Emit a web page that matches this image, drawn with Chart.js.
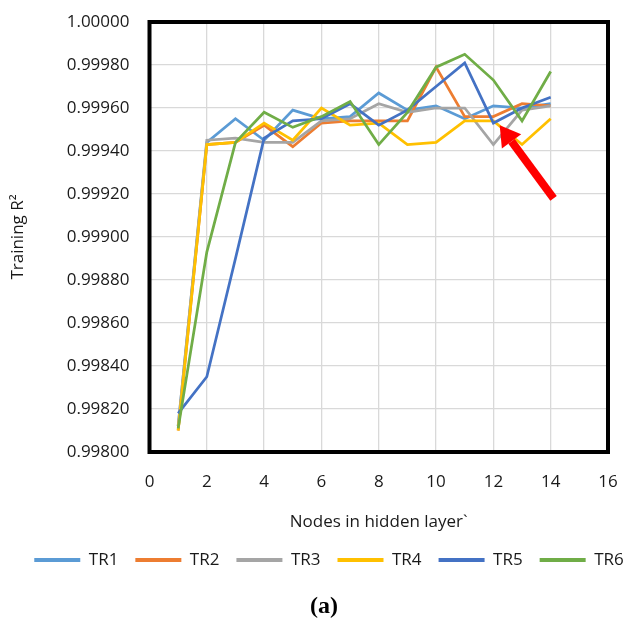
<!DOCTYPE html>
<html>
<head>
    <title>Training R2</title>
    <script src="https://cdn.jsdelivr.net/npm/chart.js"></script>
    <style>
        body { margin: 0; background: #ffffff; }
        .wrap { position: relative; width: 628px; height: 622px; overflow: hidden; }
        .caption {
            position: absolute; left: 324px; top: 605px;
            transform: translate(-50%, -50%);
            font-family: "Liberation Serif", serif; font-weight: bold; font-size: 24px; color: #000;
        }
    </style>
</head>
<body>
<div class="wrap">
    <canvas id="chart" width="628" height="622"></canvas>
    <div class="caption">(a)</div>
</div>
<script>
    // nodes in hidden layer
    const nodes = [1, 2, 3, 4, 5, 6, 7, 8, 9, 10, 11, 12, 13, 14];
    const names = ["TR1", "TR2", "TR3", "TR4", "TR5", "TR6"];
    const colors = ["#5B9BD5", "#ED7D31", "#A5A5A5", "#FFC000", "#4472C4", "#70AD47"];

    const tr1 = [0.99812, 0.99944, 0.99955, 0.99945, 0.99959, 0.99955, 0.99956, 0.99967, 0.99959, 0.99961, 0.99955, 0.99961, 0.99960, 0.99962];
    const tr2 = [0.99810, 0.99943, 0.99944, 0.99952, 0.99942, 0.99953, 0.99954, 0.99954, 0.99954, 0.99979, 0.99956, 0.99956, 0.99962, 0.99961];
    const tr3 = [0.99812, 0.99945, 0.99946, 0.99944, 0.99944, 0.99954, 0.99955, 0.99962, 0.99958, 0.99960, 0.99960, 0.99943, 0.99959, 0.99961];
    const tr4 = [0.99810, 0.99943, 0.99944, 0.99953, 0.99945, 0.99960, 0.99952, 0.99953, 0.99943, 0.99944, 0.99954, 0.99954, 0.99943, 0.99955];
    const tr5 = [0.99818, 0.99835, 0.99890, 0.99946, 0.99954, 0.99955, 0.99962, 0.99952, 0.99959, 0.99970, 0.99981, 0.99953, 0.99960, 0.99965];
    const tr6 = [0.99811, 0.99893, 0.99944, 0.99958, 0.99951, 0.99956, 0.99963, 0.99943, 0.99958, 0.99979, 0.99985, 0.99973, 0.99954, 0.99977];

    // red arrow annotation, in data units [x, y]
    const arrowFrom = [14.10, 0.99918];
    const arrowTo = [12.22, 0.99952];

    const series = [tr1, tr2, tr3, tr4, tr5, tr6];
    const font = { family: "Open Sans", size: 17 };
    const textColor = "#1a1a1a";

    const datasets = series.map(function (vals, i) {
        return {
            label: names[i],
            data: nodes.map((n, j) => ({ x: n, y: vals[j] })),
            borderColor: colors[i],
            backgroundColor: colors[i],
            borderWidth: 2.75,
            pointRadius: 0,
            tension: 0,
            order: series.length - i   // later series on top, like the original
        };
    });

    // black frame round the plot area and the red arrow
    const frameAndArrow = {
        id: "frameAndArrow",
        afterDraw(chart) {
            const ctx = chart.ctx;
            const a = chart.chartArea;
            const xs = chart.scales.x, ys = chart.scales.y;
            ctx.save();
            ctx.strokeStyle = "#000";
            ctx.lineWidth = 4;
            ctx.strokeRect(a.left, a.top, a.right - a.left, a.bottom - a.top);

            const x0 = xs.getPixelForValue(arrowFrom[0]), y0 = ys.getPixelForValue(arrowFrom[1]);
            const x1 = xs.getPixelForValue(arrowTo[0]), y1 = ys.getPixelForValue(arrowTo[1]);
            const ang = Math.atan2(y1 - y0, x1 - x0);
            const headLen = 20, headHalf = 12;
            const bx = x1 - headLen * Math.cos(ang), by = y1 - headLen * Math.sin(ang);
            ctx.strokeStyle = "#FF0000";
            ctx.fillStyle = "#FF0000";
            ctx.lineWidth = 8;
            ctx.beginPath();
            ctx.moveTo(x0, y0);
            ctx.lineTo(bx, by);
            ctx.stroke();
            ctx.beginPath();
            ctx.moveTo(x1, y1);
            ctx.lineTo(bx + headHalf * Math.sin(ang), by - headHalf * Math.cos(ang));
            ctx.lineTo(bx - headHalf * Math.sin(ang), by + headHalf * Math.cos(ang));
            ctx.closePath();
            ctx.fill();
            ctx.restore();
        }
    };

    new Chart(document.getElementById("chart"), {
        type: "line",
        data: { datasets: datasets },
        options: {
            responsive: false,
            animation: false,
            // negative right padding widens the legend row so it stays on one line;
            // the empty right axis below takes that room back from the plot
            layout: { padding: { left: 0, right: -30, top: 22, bottom: 43.5 } },
            plugins: {
                tooltip: { enabled: false },
                legend: {
                    position: "bottom",
                    labels: {
                        font: font,
                        color: textColor,
                        boxWidth: 46,
                        boxHeight: 4,
                        padding: 17,
                        sort: (a, b) => a.datasetIndex - b.datasetIndex,
                        generateLabels: function (chart) {
                            return Chart.defaults.plugins.legend.labels.generateLabels(chart)
                                .map(l => Object.assign(l, { lineWidth: 0 }));
                        }
                    }
                }
            },
            scales: {
                x: {
                    type: "linear",
                    min: 0,
                    max: 16,
                    ticks: { stepSize: 2, font: font, color: textColor, padding: 0 },
                    grid: { color: "#d9d9d9", lineWidth: 1.3, tickLength: 20, tickColor: "rgba(0,0,0,0)" },
                    border: { display: false },
                    title: {
                        display: true,
                        text: "Nodes in hidden layer`",
                        font: font,
                        color: textColor,
                        padding: { top: 0, bottom: 2 }
                    },
                    afterFit: function (scale) { scale.height = 82.5; }
                },
                y: {
                    min: 0.998,
                    max: 1.0,
                    ticks: {
                        stepSize: 0.0002,
                        font: font,
                        color: textColor,
                        padding: 0,
                        callback: v => v.toFixed(5)
                    },
                    grid: { color: "#d9d9d9", lineWidth: 1.3, tickLength: 20, tickColor: "rgba(0,0,0,0)" },
                    border: { display: false },
                    title: {
                        display: true,
                        text: "Training R\u00B2",
                        font: font,
                        color: textColor,
                        padding: { top: 8, bottom: 0 }
                    },
                    afterFit: function (scale) { scale.width = 149.5; }
                },
                spacer: {
                    position: "right",
                    ticks: { display: false },
                    grid: { display: false, drawOnChartArea: false },
                    border: { display: false },
                    afterFit: function (scale) { scale.width = 50; }
                }
            }
        },
        plugins: [frameAndArrow]
    });
</script>
</body>
</html>
